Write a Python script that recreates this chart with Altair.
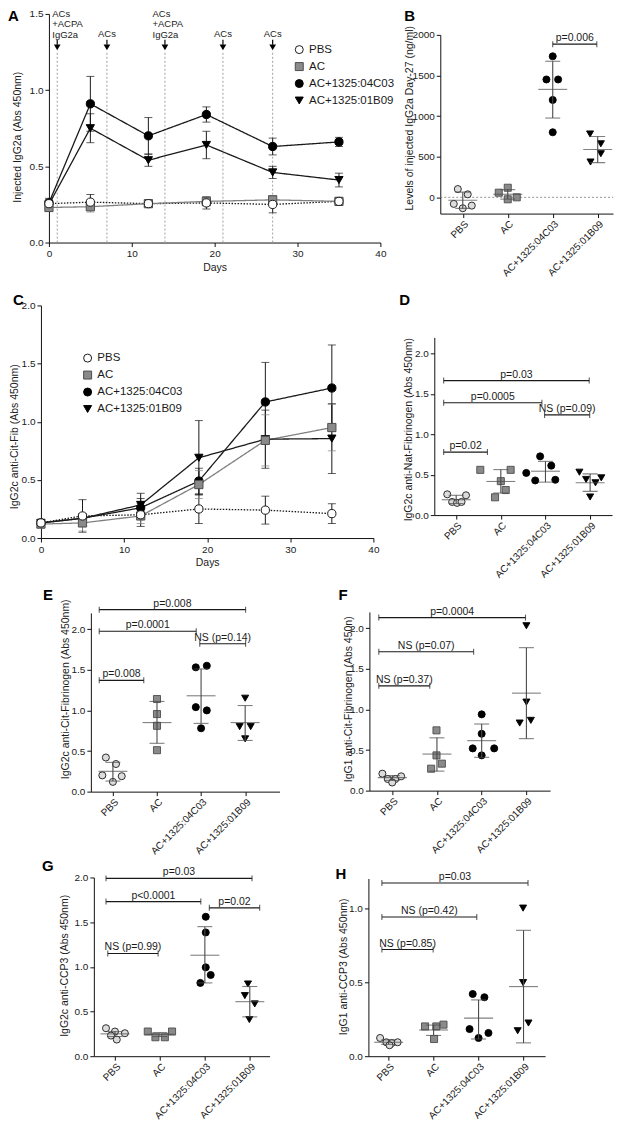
import altair as alt
import pandas as pd

FONT = "Liberation Sans"
INK = "#1a1a1a"
BAR = "#4a4a4a"

GROUPS = ["PBS", "AC", "AC+1325:04C03", "AC+1325:01B09"]
SHAPES = ["circle", "square", "circle", "triangle-down"]
LINE_FILL = ["#ffffff", "#8a8a8a", "#000000", "#000000"]
DOT_FILL = ["#dcdcdc", "#8a8a8a", "#000000", "#000000"]
MARK_STROKE = ["#1a1a1a", "#4d4d4d", "#000000", "#000000"]
GROUP_STYLE = ["dotted", "grey", "black", "black"]
STYLES = ["dotted", "grey", "black"]
STYLE_COLOR = ["#1a1a1a", "#808080", "#1a1a1a"]
STYLE_DASH = [[1.5, 1.5], [1, 0], [1, 0]]

DAYS = [0, 5, 12, 19, 27, 35]
X_TICKS = [0, 10, 20, 30, 40]

# ---------- Panel A : injected IgG2a (mean, SEM) ----------
A_PBS = [0.255, 0.265, 0.255, 0.26, 0.25, 0.27]
A_PBS_ERR = [0.02, 0.05, 0.015, 0.04, 0.055, 0.02]
A_AC = [0.23, 0.235, 0.255, 0.27, 0.28, 0.27]
A_AC_ERR = [0.02, 0.035, 0.015, 0.03, 0.025, 0.02]
A_04C03 = [0.26, 0.91, 0.70, 0.84, 0.63, 0.66]
A_04C03_ERR = [0.03, 0.18, 0.12, 0.05, 0.055, 0.03]
A_01B09 = [0.25, 0.75, 0.54, 0.64, 0.46, 0.41]
A_01B09_ERR = [0.03, 0.095, 0.04, 0.09, 0.04, 0.045]

ARROW_DAYS = [1, 7, 14, 21, 27]
ARROW_LABELS = ["ACs\n+ACPA\nIgG2a", "ACs", "ACs\n+ACPA\nIgG2a", "ACs", "ACs"]
ARROW_LABEL_X = [0.4, 7, 12.5, 21, 27]
ARROW_MULTI = [True, False, True, False, False]
ARROW_BLOCK_Y = 1.480
ARROW_TEXT_Y = 1.349
ARROW_STEM = [1.297, 1.330]
ARROW_TIP = 1.281
ARROW_LINE_TOP = 1.258

# ---------- Panel C : IgG2c anti-Cit-Fib (mean, SEM) ----------
C_PBS = [0.13, 0.19, 0.20, 0.25, 0.24, 0.21]
C_PBS_ERR = [0.03, 0.14, 0.10, 0.125, 0.12, 0.085]
C_AC = [0.12, 0.13, 0.19, 0.46, 0.84, 0.95]
C_AC_ERR = [0.03, 0.07, 0.065, 0.12, 0.22, 0.20]
C_04C03 = [0.13, 0.17, 0.26, 0.49, 1.17, 1.29]
C_04C03_ERR = [0.03, 0.04, 0.08, 0.11, 0.34, 0.37]
C_01B09 = [0.13, 0.17, 0.285, 0.69, 0.85, 0.855]
C_01B09_ERR = [0.03, 0.03, 0.10, 0.32, 0.25, 0.30]

# ---------- Panel B : levels of injected IgG2a day 27 ----------
B_VALUES = [[102, -81, -134, 37, -102], [57, 118, -24, 0],
            [1736, 1451, 1451, 1199, 801], [780, 659, 537, 435]]
B_JITTER = [[-0.11, -0.2, 0.0, 0.11, 0.2], [-0.2, 0.0, 0.0, 0.2],
            [0.0, -0.14, 0.12, 0.0, 0.0], [-0.17, 0.07, 0.07, -0.16]]
B_MEAN = [-36, 38, 1329, 589]
B_SD_HI = [64, 95, 1675, 748]
B_SD_LO = [-136, -22, 976, 427]
B_BRACKETS = [(2.0, 2.98, 1886, "p=0.006")]

# ---------- Panel D : IgG2c anti-Nat-Fibrinogen ----------
D_VALUES = [[0.257, 0.245, 0.163, 0.151, 0.163], [0.56, 0.56, 0.42, 0.31, 0.22],
            [0.727, 0.522, 0.612, 0.429, 0.437], [0.531, 0.461, 0.441, 0.40, 0.224]]
D_JITTER = [[-0.2, 0.22, -0.09, 0.02, 0.12], [-0.46, 0.22, 0.0, 0.11, -0.13],
            [-0.12, -0.43, 0.13, -0.23, 0.22], [-0.24, 0.25, -0.09, 0.12, 0.0]]
D_MEAN = [0.19, 0.416, 0.543, 0.40]
D_SD_HI = [0.245, 0.563, 0.665, 0.51]
D_SD_LO = [0.143, 0.273, 0.408, 0.294]
D_BRACKETS = [(-0.28, 0.70, 0.78, "p=0.02"), (-0.28, 1.92, 1.39, "p=0.0005"),
              (-0.28, 2.98, 1.665, "p=0.03"), (1.98, 2.99, 1.24, "NS (p=0.09)")]

# ---------- Panel E : IgG2c anti-Cit-Fibrinogen ----------
E_VALUES = [[0.42, 0.34, 0.19, 0.20, 0.12], [1.14, 0.955, 0.81, 0.51],
            [1.53, 1.55, 1.04, 1.0, 0.78], [1.15, 0.80, 0.80, 0.65]]
E_JITTER = [[-0.16, 0.07, 0.2, -0.24, 0.0], [0.0, 0.0, 0.0, 0.0],
            [-0.12, 0.13, -0.12, 0.13, 0.0], [0.0, -0.125, 0.125, 0.0]]
E_MEAN = [0.25, 0.85, 1.18, 0.85]
E_SD_HI = [0.36, 1.11, 1.51, 1.06]
E_SD_LO = [0.13, 0.595, 0.84, 0.63]
E_BRACKETS = [(-0.31, 0.70, 1.37, "p=0.008"), (-0.31, 1.89, 1.975, "p=0.0001"),
              (1.97, 3.01, 1.82, "NS (p=0.14)"), (-0.31, 3.01, 2.24, "p=0.008")]

# ---------- Panel F : IgG1 anti-Cit-Fibrinogen ----------
F_VALUES = [[0.209, 0.143, 0.143, 0.176, 0.10], [0.742, 0.434, 0.332, 0.27],
            [0.939, 0.70, 0.52, 0.52, 0.434], [2.03, 1.09, 0.832, 0.865]]
F_JITTER = [[-0.22, -0.1, 0.07, 0.2, 0.0], [-0.01, -0.01, 0.11, -0.13],
            [0.0, 0.0, -0.2, 0.28, 0.0], [0.0, 0.0, -0.15, 0.1]]
F_MEAN = [0.16, 0.45, 0.615, 1.20]
F_SD_HI = [0.185, 0.65, 0.82, 1.76]
F_SD_LO = [0.125, 0.24, 0.41, 0.64]
F_BRACKETS = [(-0.3, 0.84, 1.29, "NS (p=0.37)"), (-0.3, 1.82, 1.71, "NS (p=0.07)"),
              (-0.3, 2.98, 2.13, "p=0.0004")]

# ---------- Panel G : IgG2c anti-CCP3 ----------
G_VALUES = [[0.313, 0.276, 0.257, 0.231, 0.186], [0.276, 0.276, 0.212, 0.212],
            [1.56, 1.385, 0.994, 0.909, 0.82], [0.808, 0.678, 0.585, 0.41]]
G_JITTER = [[-0.2, 0.0, 0.22, -0.09, 0.04], [-0.27, 0.27, -0.1, 0.11],
            [0.02, 0.02, 0.02, 0.13, -0.1], [-0.04, -0.11, 0.11, -0.01]]
G_MEAN = [0.25, 0.245, 1.13, 0.61]
G_SD_HI = [0.275, 0.265, 1.45, 0.78]
G_SD_LO = [0.22, 0.22, 0.82, 0.44]
G_BRACKETS = [(-0.16, 0.96, 1.15, "NS (p=0.99)"), (-0.2, 1.91, 1.73, "p<0.0001"),
              (2.1, 3.22, 1.66, "p=0.02"), (-0.2, 3.05, 1.99, "p=0.03")]

# ---------- Panel H : IgG1 anti-CCP3 ----------
H_VALUES = [[0.123, 0.094, 0.089, 0.094, 0.074], [0.201, 0.201, 0.213, 0.116],
            [0.42, 0.398, 0.183, 0.157, 0.123], [1.0, 0.497, 0.224, 0.172]]
H_JITTER = [[-0.19, -0.05, 0.07, 0.2, 0.02], [-0.19, 0.06, 0.22, 0.01],
            [-0.13, 0.13, -0.2, 0.22, 0.0], [-0.01, -0.01, 0.11, -0.13]]
H_MEAN = [0.094, 0.177, 0.257, 0.47]
H_SD_HI = [0.11, 0.21, 0.38, 0.85]
H_SD_LO = [0.08, 0.14, 0.116, 0.09]
H_BRACKETS = [(-0.15, 0.99, 0.72, "NS (p=0.85)"), (-0.15, 1.96, 0.94, "NS (p=0.42)"),
              (-0.15, 3.1, 1.17, "p=0.03")]

# ---------- layout (page pixels) ----------
COL_X = [8, 340]
COL_W = [332, 274]
ROW_Y = [8, 262, 572, 842]
ROW_H = [254, 310, 270, 270]

LABEL_EXPR = "[" + ",".join("'" + g + "'" for g in GROUPS) + "][datum.value]"


def frame(col, row, px, py, pw, ph):
    cx, cy = COL_X[col], ROW_Y[row]
    W, H = COL_W[col], ROW_H[row]
    return dict(W=W, H=H, cx=cx, cy=cy,
                xr=[px - cx, px - cx + pw], yr=[py - cy + ph, py - cy],
                xoff=(py + ph) - (cy + H), yoff=cx - px)


def make_enc(f, xdom, ydom, xaxis, yticks, yfmt, ytitle, tdist, ty_page, xtitle):
    xs = alt.Scale(domain=xdom, range=f["xr"], nice=False, zero=False)
    ys = alt.Scale(domain=ydom, range=f["yr"], nice=False, zero=False)
    xa = alt.Axis(offset=f["xoff"], labelFlush=False, labelOverlap=False, **xaxis)
    ya = alt.Axis(offset=f["yoff"], values=yticks, format=yfmt, labelFlush=False,
                  labelOverlap=False, titleX=-tdist, titleY=ty_page - f["cy"],
                  titleAngle=270, titleAlign="center", titleBaseline="middle")

    def X(field):
        if xtitle is None:
            return alt.X(field + ":Q", scale=xs, axis=xa, title=None)
        return alt.X(field + ":Q", scale=xs, axis=xa, title=xtitle)

    def Y(field):
        return alt.Y(field + ":Q", scale=ys, axis=ya, title=ytitle)

    return X, Y


def letter_layer(f, letter, page_xy):
    return alt.Chart(pd.DataFrame({"t": [letter]})).mark_text(
        align="left", baseline="alphabetic", fontSize=15, fontWeight="bold",
        font=FONT, color="#000000").encode(
        x=alt.value(page_xy[0] - f["cx"]), y=alt.value(page_xy[1] - f["cy"]), text="t:N")


def line_panel(box, letter, letter_xy, series, errs, ydom, yticks, ytitle, tdist,
               ty_page, legend_xy, extra=None):
    f = frame(*box)
    X, Y = make_enc(f, [0, 40], ydom, dict(values=X_TICKS, format="d", titlePadding=4),
                    yticks, ".1f", ytitle, tdist, ty_page, "Days")
    rows = []
    for gi, g in enumerate(GROUPS):
        for d, m, e in zip(DAYS, series[gi], errs[gi]):
            rows.append(dict(group=g, style=GROUP_STYLE[gi], day=d, mean=m,
                             lo=m - e, hi=m + e, draw=3 - gi))
    df = pd.DataFrame(rows)
    pts = df.sort_values("draw", kind="stable")
    color = alt.Color("style:N", scale=alt.Scale(domain=STYLES, range=STYLE_COLOR), legend=None)
    dash = alt.StrokeDash("style:N", scale=alt.Scale(domain=STYLES, range=STYLE_DASH), legend=None)
    leg = alt.Legend(orient="none", legendX=legend_xy[0] - f["cx"], legendY=legend_xy[1] - f["cy"],
                     title=None, labelFontSize=11.5, labelFont=FONT, labelColor=INK,
                     symbolSize=64, symbolStrokeWidth=1, rowPadding=4, labelOffset=4, padding=0)
    layers = []
    if extra is not None:
        layers += extra(X, Y)
    layers += [
        alt.Chart(df).mark_line(strokeWidth=1.3).encode(
            x=X("day"), y=Y("mean"), color=color, strokeDash=dash, detail="group:N"),
        alt.Chart(df).mark_rule(strokeWidth=1).encode(x=X("day"), y=Y("lo"), y2="hi:Q", color=color),
        alt.Chart(df).mark_tick(orient="horizontal", size=8, thickness=1).encode(x=X("day"), y=Y("lo"), color=color),
        alt.Chart(df).mark_tick(orient="horizontal", size=8, thickness=1).encode(x=X("day"), y=Y("hi"), color=color),
        alt.Chart(pts).mark_point(filled=True, size=68, strokeWidth=1, opacity=1, fillOpacity=1).encode(
            x=X("day"), y=Y("mean"),
            shape=alt.Shape("group:N", scale=alt.Scale(domain=GROUPS, range=SHAPES), legend=leg),
            fill=alt.Fill("group:N", scale=alt.Scale(domain=GROUPS, range=LINE_FILL), legend=leg),
            stroke=alt.Stroke("group:N", scale=alt.Scale(domain=GROUPS, range=MARK_STROKE), legend=leg)),
        letter_layer(f, letter, letter_xy),
    ]
    return alt.layer(*layers).properties(width=f["W"], height=f["H"])


def dot_panel(box, letter, letter_xy, xdom, ydom, yticks, yfmt, ytitle, tdist, ty_page,
              values, jitter, mean, hi, lo, brackets, zero_line=False):
    f = frame(*box)
    xaxis = dict(values=[0, 1, 2, 3], labelExpr=LABEL_EXPR, labelAngle=315, labelAlign="right",
                 labelBaseline="top", labelFontSize=10, labelPadding=1)
    X, Y = make_enc(f, xdom, ydom, xaxis, yticks, yfmt, ytitle, tdist, ty_page, None)
    prow = []
    for gi, g in enumerate(GROUPS):
        for v, o in zip(values[gi], jitter[gi]):
            prow.append(dict(group=g, x=gi + o, y=v))
    pdf = pd.DataFrame(prow)
    sdf = pd.DataFrame(dict(x=list(range(4)), mean=mean, hi=hi, lo=lo))
    bdf = pd.DataFrame(dict(x1=[b[0] for b in brackets], x2=[b[1] for b in brackets],
                            y=[b[2] for b in brackets], label=[b[3] for b in brackets]))
    bdf["xm"] = (bdf["x1"] + bdf["x2"]) / 2
    ends = pd.DataFrame(dict(x=list(bdf["x1"]) + list(bdf["x2"]), y=list(bdf["y"]) * 2))
    layers = []
    if zero_line:
        zdf = pd.DataFrame(dict(x1=[xdom[0]], x2=[xdom[1]], y=[0]))
        layers.append(alt.Chart(zdf).mark_rule(strokeDash=[2, 2], color="#777777", strokeWidth=0.8).encode(
            x=X("x1"), x2="x2:Q", y=Y("y")))
    layers += [
        alt.Chart(pdf).mark_point(filled=True, size=50, strokeWidth=0.9, opacity=1, fillOpacity=1).encode(
            x=X("x"), y=Y("y"),
            shape=alt.Shape("group:N", scale=alt.Scale(domain=GROUPS, range=SHAPES), legend=None),
            fill=alt.Fill("group:N", scale=alt.Scale(domain=GROUPS, range=DOT_FILL), legend=None),
            stroke=alt.Stroke("group:N", scale=alt.Scale(domain=GROUPS, range=MARK_STROKE), legend=None)),
        alt.Chart(sdf).mark_rule(color=BAR, strokeWidth=1.1).encode(x=X("x"), y=Y("lo"), y2="hi:Q"),
        alt.Chart(sdf).mark_tick(orient="horizontal", size=29, thickness=1.1, color=BAR).encode(x=X("x"), y=Y("mean")),
        alt.Chart(sdf).mark_tick(orient="horizontal", size=15, thickness=1.1, color=BAR).encode(x=X("x"), y=Y("hi")),
        alt.Chart(sdf).mark_tick(orient="horizontal", size=15, thickness=1.1, color=BAR).encode(x=X("x"), y=Y("lo")),
        alt.Chart(bdf).mark_rule(color=INK, strokeWidth=1.1).encode(x=X("x1"), x2="x2:Q", y=Y("y")),
        alt.Chart(ends).mark_tick(orient="vertical", size=6, thickness=1.1, color=INK).encode(x=X("x"), y=Y("y")),
        alt.Chart(bdf).mark_text(baseline="alphabetic", dy=-3, fontSize=10.5, font=FONT, color=INK).encode(
            x=X("xm"), y=Y("y"), text="label:N"),
        letter_layer(f, letter, letter_xy),
    ]
    return alt.layer(*layers).properties(width=f["W"], height=f["H"])


def arrows(X, Y):
    adf = pd.DataFrame(dict(day=ARROW_DAYS, label=ARROW_LABELS, lx=ARROW_LABEL_X, multi=ARROW_MULTI,
                            by=[ARROW_BLOCK_Y] * 5, ty=[ARROW_TEXT_Y] * 5,
                            s0=[ARROW_STEM[0]] * 5, s1=[ARROW_STEM[1]] * 5,
                            tip=[ARROW_TIP] * 5, top=[ARROW_LINE_TOP] * 5, base=[0.0] * 5))
    return [
        alt.Chart(adf).mark_rule(strokeDash=[2, 2], color="#a0a0a0", strokeWidth=1).encode(
            x=X("day"), y=Y("base"), y2="top:Q"),
        alt.Chart(adf).mark_rule(color="#000000", strokeWidth=1.2).encode(x=X("day"), y=Y("s0"), y2="s1:Q"),
        alt.Chart(adf).mark_point(shape="triangle-down", filled=True, size=45, color="#000000", opacity=1).encode(
            x=X("day"), y=Y("tip")),
        alt.Chart(adf).transform_filter("datum.multi").mark_text(
            align="left", baseline="alphabetic", lineBreak="\n", lineHeight=10.3, fontSize=9.5, font=FONT,
            color=INK).encode(x=X("lx"), y=Y("by"), text="label:N"),
        alt.Chart(adf).transform_filter("!datum.multi").mark_text(
            align="center", baseline="alphabetic", fontSize=9.5, font=FONT, color=INK).encode(
            x=X("lx"), y=Y("ty"), text="label:N"),
    ]


A = line_panel((0, 0, 49, 13, 332, 229), "A", (8, 20),
               [A_PBS, A_AC, A_04C03, A_01B09], [A_PBS_ERR, A_AC_ERR, A_04C03_ERR, A_01B09_ERR],
               [0, 1.5], [0, 0.5, 1.0, 1.5], "Injected  IgG2a  (Abs 450nm)", 31, 136,
               (294, 43), extra=arrows)
C = line_panel((0, 1, 41, 305, 333, 233), "C", (13, 305),
               [C_PBS, C_AC, C_04C03, C_01B09], [C_PBS_ERR, C_AC_ERR, C_04C03_ERR, C_01B09_ERR],
               [0, 2.0], [0, 0.5, 1.0, 1.5, 2.0], "IgG2c anti-Cit-Fib (Abs 450nm)", 26, 436,
               (82, 352))
B = dot_panel((1, 0, 441, 34, 173, 179), "B", (405, 20), [-0.5, 3.34], [-200, 2000],
              [0, 500, 1000, 1500, 2000], "d", "Levels of injected IgG2a Day-27 (ng/ml)", 31, 117,
              B_VALUES, B_JITTER, B_MEAN, B_SD_HI, B_SD_LO, B_BRACKETS, zero_line=True)
D = dot_panel((1, 1, 435, 337, 178, 178), "D", (400, 305), [-0.49, 3.49], [0, 2.2],
              [0, 0.5, 1.0, 1.5, 2.0], ".1f", "IgG2c anti-Nat-Fibrinogen (Abs 450nm)", 26, 429,
              D_VALUES, D_JITTER, D_MEAN, D_SD_HI, D_SD_LO, D_BRACKETS)
E = dot_panel((0, 2, 91, 613, 189, 179), "E", (43, 600), [-0.5, 3.78], [0, 2.2],
              [0, 0.5, 1.0, 1.5, 2.0], ".1f", "IgG2c anti-Cit-Fibrinogen (Abs 450nm)", 25.5, 689,
              E_VALUES, E_JITTER, E_MEAN, E_SD_HI, E_SD_LO, E_BRACKETS)
F = dot_panel((1, 2, 370, 612, 181, 179), "F", (339, 600), [-0.51, 3.53], [0, 2.2],
              [0, 0.5, 1.0, 1.5, 2.0], ".1f", "IgG1 anti-Cit-Fibrinogen (Abs 450n)", 21, 699,
              F_VALUES, F_JITTER, F_MEAN, F_SD_HI, F_SD_LO, F_BRACKETS)
G = dot_panel((0, 3, 94, 878, 176, 179), "G", (42, 872), [-0.47, 3.44], [0, 2.0],
              [0, 0.5, 1.0, 1.5, 2.0], ".1f", "IgG2c anti-CCP3 (Abs 450nm)", 29, 966,
              G_VALUES, G_JITTER, G_MEAN, G_SD_HI, G_SD_LO, G_BRACKETS)
H = dot_panel((1, 3, 369, 879, 177, 178), "H", (336, 880), [-0.45, 3.48], [0, 1.2],
              [0, 0.5, 1.0], ".1f", "IgG1 anti-CCP3 (Abs 450nm)", 25, 967,
              H_VALUES, H_JITTER, H_MEAN, H_SD_HI, H_SD_LO, H_BRACKETS)

chart = alt.concat(A, B, C, D, E, F, G, H, columns=2, spacing=0, bounds="flush", align="each").resolve_scale(
    x="independent", y="independent", color="independent", shape="independent",
    fill="independent", stroke="independent", strokeDash="independent").resolve_legend(
    shape="independent", fill="independent", stroke="independent").properties(padding=0).configure(
    font=FONT).configure_view(stroke=None).configure_axis(
    grid=False, domainColor="#111111", tickColor="#111111", domainWidth=1, tickWidth=1, tickSize=4,
    labelColor=INK, titleColor=INK, labelFont=FONT, titleFont=FONT, labelFontSize=10,
    titleFontSize=10.5, titleFontWeight="normal", labelPadding=2)

chart.save("out.html", embed_options={"renderer": "svg", "actions": False})
